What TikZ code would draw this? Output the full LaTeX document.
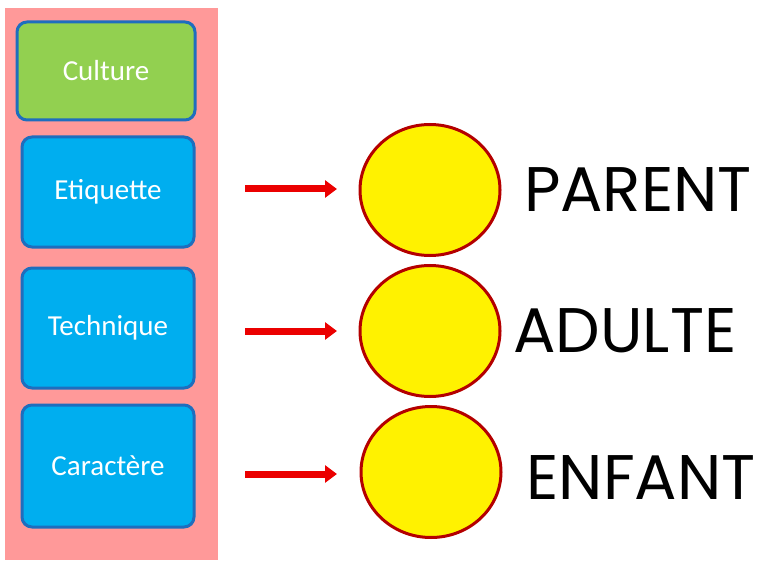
\documentclass[tikz,border=0pt]{standalone}
\usepackage{fontspec}
\setmainfont{Carlito}
\newfontfamily\bigf{Poppins}
\usetikzlibrary{arrows.meta,shapes.geometric}
\definecolor{bbord}{RGB}{30,110,190}
\definecolor{bfill}{RGB}{0,174,239}
\definecolor{gfill}{RGB}{146,208,80}
\definecolor{pinkbg}{RGB}{255,153,153}
\definecolor{cbord}{RGB}{180,0,0}
\definecolor{arred}{RGB}{235,0,0}
\begin{document}
\begin{tikzpicture}[x=1pt,y=-1pt,
 box/.style={draw=bbord,line width=3pt,rounded corners=10pt,fill=bfill,text=white,font=\fontsize{29}{32}\selectfont},
 arr/.style={draw=arred,line width=7pt,-{Triangle[length=12pt,width=17pt]}},
 circ/.style={draw=cbord,line width=3pt,fill=yellow,ellipse,minimum width=140pt,minimum height=131pt,inner sep=0},
 lab/.style={font=\bigf\fontsize{63}{65}\selectfont,text=black,inner sep=0}]
\useasboundingbox (0,0) rectangle (779,564);
\fill[pinkbg] (5,8) rectangle (218,560);
\node[box,fill=gfill,minimum width=178pt,minimum height=98pt] (cul) at (106,71) {Culture};
\node[box,minimum width=172pt,minimum height=110pt] (eti) at (108,192) {Etiquette};
\node[box,minimum width=172pt,minimum height=120pt] (tec) at (108,328) {Technique};
\node[box,minimum width=172pt,minimum height=122pt] (car) at (108,466) {Caractère};
\node[circ] (c1) at (430,190) {};
\node[circ] (c2) at (430,331) {};
\node[circ] (c3) at (431,472) {};
\coordinate (a1) at (245,189); \coordinate (b1) at (337,189);
\coordinate (a2) at (245,331); \coordinate (b2) at (337,331);
\coordinate (a3) at (245,474); \coordinate (b3) at (337,474);
\draw[arr] (a1) -- (b1);
\draw[arr] (a2) -- (b2);
\draw[arr] (a3) -- (b3);
\node[lab] (p) at (638,190) {PARENT};
\node[lab] (ad) at (625,331) {ADULTE};
\node[lab] (en) at (641,478) {ENFANT};
\end{tikzpicture}
\end{document}
